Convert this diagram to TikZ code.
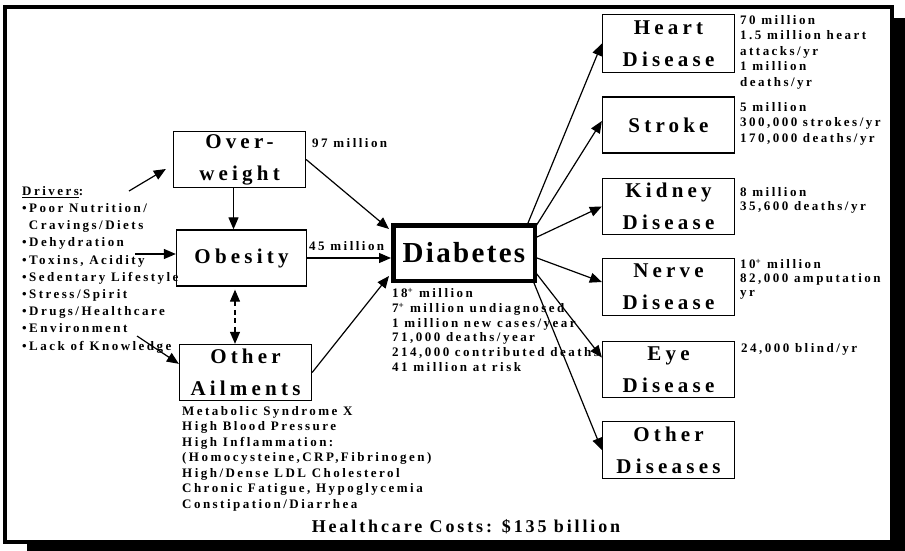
\documentclass[tikz,border=0pt]{standalone}
\usepackage{fontspec}
\setmainfont{Liberation Serif}
\usetikzlibrary{arrows.meta,calc}
\newfontfamily\fsmall[LetterSpace=19]{Liberation Serif}
\newfontfamily\ftitle[LetterSpace=20]{Liberation Serif}
\newfontfamily\fdiab[LetterSpace=8]{Liberation Serif}
\newfontfamily\fcost[LetterSpace=16]{Liberation Serif}
\begin{document}
\begin{tikzpicture}[x=1pt,y=-1pt,
  box/.style={draw, line width=1.3pt, minimum width=132pt, minimum height=56pt, inner sep=0pt, align=center,
    font=\ftitle\bfseries\fontsize{21}{32}\selectfont},
  arr/.style={line width=1.2pt, -{Triangle[length=12pt,width=10pt]}},
  stat/.style={anchor=north west, inner sep=0pt, align=left, font=\fsmall\bfseries\fontsize{13}{15.5}\selectfont},
  lbl/.style={anchor=west, inner sep=0pt, font=\fsmall\bfseries\fontsize{13}{15.5}\selectfont}]
\useasboundingbox (0,0) rectangle (905,551);
% frame with shadow
\fill[black] (27,18) rectangle (920,560);
\draw[line width=4pt, fill=white] (5,7) rectangle (892,542);

% boxes
\node[box] (ow) at (239.5,159.5) {Over-\\weight};
\node[box, minimum width=130pt] (ob) at (241.5,258) {Obesity};
\node[box] (oa) at (245.5,372.5) {Other\\Ailments};
\node[draw, line width=4.5pt, minimum width=141.5pt, minimum height=55.5pt, inner sep=0pt,
  font=\fdiab\bfseries\fontsize{29}{32}\selectfont] (diab) at (464,253) {Diabetes};
\node[box, minimum height=58pt] (heart) at (668.5,43.5) {Heart\\Disease};
\node[box] (stroke) at (668.5,125) {Stroke};
\node[box] (kidney) at (668.5,206.5) {Kidney\\Disease};
\node[box, minimum height=57pt] (nerve) at (668.5,287) {Nerve\\Disease};
\node[box] (eye) at (668.5,369.5) {Eye\\Disease};
\node[box, minimum height=57pt] (od) at (668.5,450) {Other\\Diseases};

% texts
\node[stat] (drv) at (22,186) {\underline{Drivers}:\\[1.7pt]
  \textbullet Poor Nutrition/\\[1.7pt]
  \phantom{\textbullet}\,Cravings/Diets\\[1.7pt]
  \textbullet Dehydration\\[1.7pt]
  \textbullet Toxins, Acidity\\[1.7pt]
  \textbullet Sedentary Lifestyle\\[1.7pt]
  \textbullet Stress/Spirit\\[1.7pt]
  \textbullet Drugs/Healthcare\\[1.7pt]
  \textbullet Environment\\[1.7pt]
  \textbullet Lack of Knowledge};
\node[lbl] (l97) at (312,143) {97 million};
\node[lbl] (l45) at (309,246) {45 million};
\node[stat, font=\fsmall\bfseries\fontsize{13}{14.7}\selectfont] (dstat) at (392,288) {18\textsuperscript{+} million\\
  7\textsuperscript{+} million undiagnosed\\
  1 million new cases/year\\
  71,000 deaths/year\\
  214,000 contributed deaths\\
  41 million at risk};
\node[stat] (hstat) at (740,15) {70 million\\1.5 million heart\\attacks/yr\\1 million\\deaths/yr};
\node[stat] (sstat) at (740,102) {5 million\\300,000 strokes/yr\\170,000 deaths/yr};
\node[stat, font=\fsmall\bfseries\fontsize{13}{14}\selectfont] (kstat) at (740,187) {8 million\\35,600 deaths/yr};
\node[stat, font=\fsmall\bfseries\fontsize{13}{14}\selectfont] (nstat) at (740,259) {10\textsuperscript{+} million\\82,000 amputation\\yr};
\node[stat] (estat) at (741,343) {24,000 blind/yr};
\node[stat] (astat) at (182,406) {Metabolic Syndrome X\\High Blood Pressure\\High Inflammation:\\(Homocysteine,CRP,Fibrinogen)\\High/Dense LDL Cholesterol\\Chronic Fatigue, Hypoglycemia\\Constipation/Diarrhea};
\node[inner sep=0pt, font=\fcost\bfseries\fontsize{18}{20}\selectfont] (cost) at (466,527) {Healthcare Costs: \$135 billion};

% arrows
\coordinate (d1) at (129,191);
\coordinate (t1) at (135,254);
\coordinate (e1) at (137,336);
\draw[arr] (d1) -- ($(ow.west)+(-7,9.5)$);
\draw[arr] ($(ow.south)+(-6,0)$) -- ($(ob.north)+(-8,0)$);
\draw[arr] (t1) -- (t1 -| ob.west);
\draw[arr] (e1) -- ($(oa.north west)+(0,20)$);
\draw[line width=1.2pt, dash pattern=on 5pt off 3.5pt, {Triangle[length=12pt,width=10pt]}-{Triangle[length=12pt,width=10pt]}]
  ($(ob.south)+(-6.5,3)$) -- ($(oa.north)+(-10.5,0)$);
\draw[arr] (ow.east) -- ($(diab.north west)+(-2,6)$);
\draw[arr] (ob.east) -- (ob.east -| diab.west);
\draw[arr] (oa.east) -- ($(diab.south west)+(-2,-7)$);
\draw[arr] ($(diab.north east)+(-9,0)$) -- (heart.west);
\draw[arr] ($(diab.north east)+(-1,3)$) -- ($(stroke.west)+(0,-4)$);
\draw[arr] ($(diab.east)+(0,-16)$) -- (kidney.west);
\draw[arr] ($(diab.east)+(0,5)$) -- ($(nerve.west)+(0,-5)$);
\draw[arr] ($(diab.south east)+(-1,-10)$) -- ($(eye.west)+(0,-12)$);
\draw[arr] ($(diab.south east)+(-3,0)$) -- (od.west);
\end{tikzpicture}
\end{document}
